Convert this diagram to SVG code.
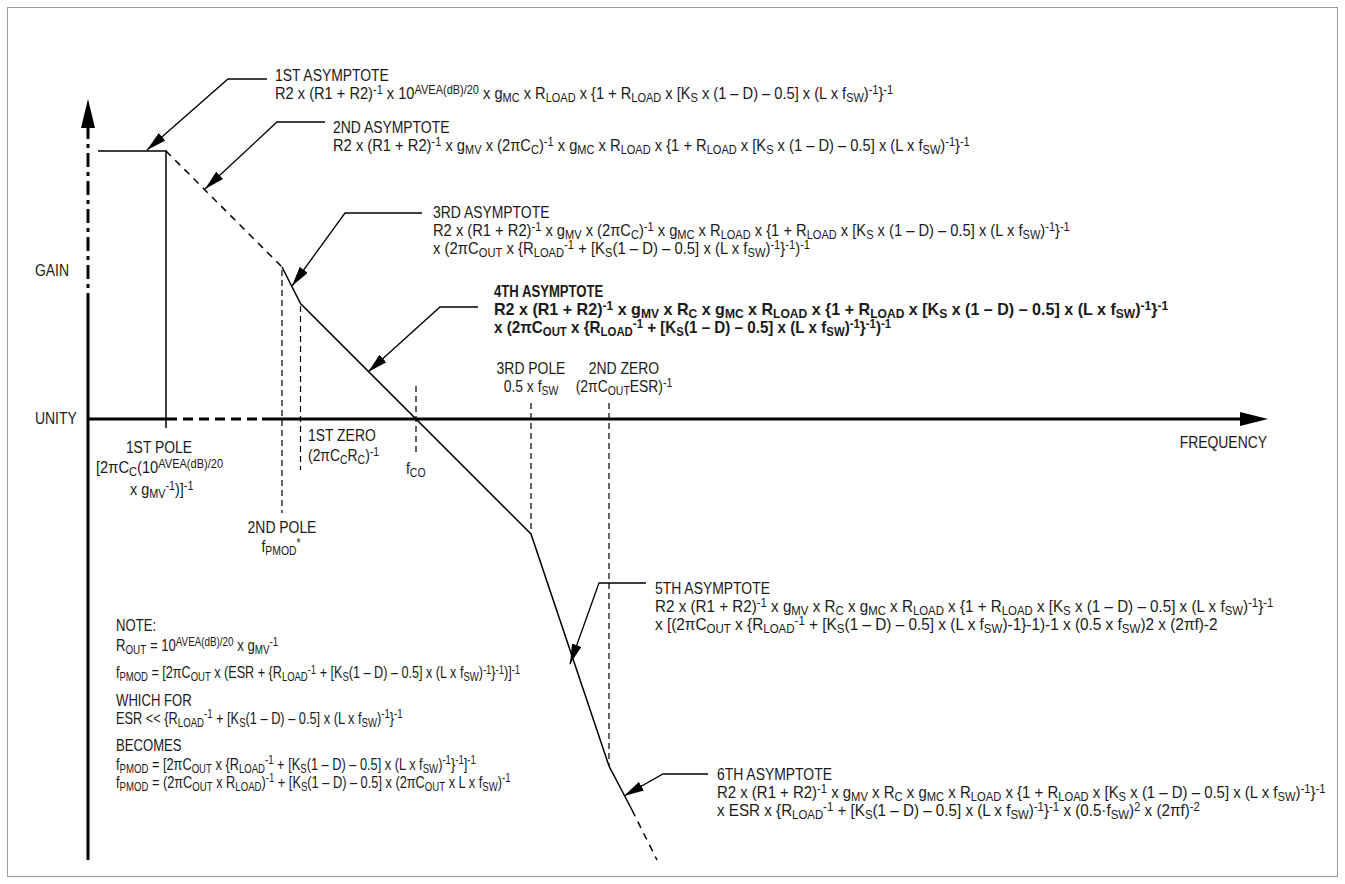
<svg xmlns="http://www.w3.org/2000/svg" width="1345" height="884" viewBox="0 0 1345 884">
<defs>
<marker id="ah" viewBox="0 0 20 10" refX="20" refY="5" markerWidth="20" markerHeight="10" markerUnits="userSpaceOnUse" orient="auto"><path d="M0,0 L20,5 L0,10 z" fill="#000"/></marker>
</defs>
<style>
text{font-family:"Liberation Sans",Arial,sans-serif;font-size:16px;fill:#1a1a1a}
.bd{font-weight:bold}
.b{baseline-shift:-3px;font-size:12px}
.p{baseline-shift:5px;font-size:12px}
.ax{stroke:#000;stroke-width:3;fill:none}
.cv{stroke:#000;stroke-width:1.5;fill:none}
.cd{stroke:#000;stroke-width:1.5;fill:none;stroke-dasharray:7 6}
.dv{stroke:#000;stroke-width:1.2;stroke-dasharray:6 4;fill:none}
.ptr{stroke:#000;stroke-width:1.3;fill:none;marker-end:url(#ah)}
</style>
<rect x="7.5" y="7.5" width="1330" height="869" fill="#fff" stroke="#999" stroke-width="1"/>

<g id="axes">
<line class="ax" x1="88" y1="300" x2="88" y2="860"/>
<line class="ax" x1="88" y1="125" x2="88" y2="300" stroke-dasharray="14 5 4 5"/>
<polygon points="88,99 81,128 95,128" fill="#000"/>
<line class="ax" x1="88" y1="419" x2="167" y2="419"/>
<line class="ax" x1="167" y1="419" x2="262" y2="419" stroke-dasharray="10 6"/>
<line class="ax" x1="262" y1="419" x2="1242" y2="419"/>
<polygon points="1268,419 1240,412 1240,426" fill="#000"/>
<text transform="translate(35,276) scale(.87,1)">GAIN</text>
<text transform="translate(35,424) scale(.87,1)">UNITY</text>
<text transform="translate(1267,448) scale(.87,1)" text-anchor="end">FREQUENCY</text>
</g>

<g id="curve">
<polyline class="cv" points="98,151 166,151 166,428"/>
<line class="cd" x1="166" y1="151" x2="282" y2="267"/>
<polyline class="cv" points="282,267 300.5,303.5 531,534 609,766 632,810"/>
<line class="cd" x1="632" y1="810" x2="657" y2="860"/>
</g>

<g id="markers">
<line class="dv" x1="282" y1="270" x2="282" y2="513"/>
<line class="dv" x1="300.5" y1="306" x2="300.5" y2="470"/>
<line class="dv" x1="416" y1="386" x2="416" y2="455"/>
<line class="dv" x1="531" y1="403" x2="531" y2="534"/>
<line class="dv" x1="609" y1="403" x2="609" y2="766"/>
</g>

<g id="connectors">
<polyline class="ptr" points="267,79 228,79 147,150"/>
<polyline class="ptr" points="325,122 277,122 205,189"/>
<polyline class="ptr" points="422,213 345,213 292,286"/>
<polyline class="ptr" points="478,307 440,307 368,372"/>
<polyline class="ptr" points="646,583 599,583 570,664"/>
<polyline class="ptr" points="708,774 663,774 624,796"/>
</g>

<g id="asym1">
<text transform="translate(275,81) scale(.87,1)">1ST ASYMPTOTE</text>
<text transform="translate(275,99) scale(.915,1)">R2 x (R1 + R2)<tspan class="p">-1</tspan> x 10<tspan class="p">AVEA(dB)/20</tspan> x g<tspan class="b">MC</tspan> x R<tspan class="b">LOAD</tspan> x {1 + R<tspan class="b">LOAD</tspan> x [K<tspan class="b">S</tspan> x (1 – D) – 0.5] x (L x f<tspan class="b">SW</tspan>)<tspan class="p">-1</tspan>}<tspan class="p">-1</tspan></text>
</g>

<g id="asym2">
<text transform="translate(333,133) scale(.87,1)">2ND ASYMPTOTE</text>
<text transform="translate(333,151) scale(.92,1)">R2 x (R1 + R2)<tspan class="p">-1</tspan> x g<tspan class="b">MV</tspan> x (2πC<tspan class="b">C</tspan>)<tspan class="p">-1</tspan> x g<tspan class="b">MC</tspan> x R<tspan class="b">LOAD</tspan> x {1 + R<tspan class="b">LOAD</tspan> x [K<tspan class="b">S</tspan> x (1 – D) – 0.5] x (L x f<tspan class="b">SW</tspan>)<tspan class="p">-1</tspan>}<tspan class="p">-1</tspan></text>
</g>

<g id="asym3">
<text transform="translate(433,218) scale(.87,1)">3RD ASYMPTOTE</text>
<text transform="translate(433,236) scale(.92,1)">R2 x (R1 + R2)<tspan class="p">-1</tspan> x g<tspan class="b">MV</tspan> x (2πC<tspan class="b">C</tspan>)<tspan class="p">-1</tspan> x g<tspan class="b">MC</tspan> x R<tspan class="b">LOAD</tspan> x {1 + R<tspan class="b">LOAD</tspan> x [K<tspan class="b">S</tspan> x (1 – D) – 0.5] x (L x f<tspan class="b">SW</tspan>)<tspan class="p">-1</tspan>}<tspan class="p">-1</tspan></text>
<text transform="translate(433,254) scale(.93,1)">x (2πC<tspan class="b">OUT</tspan> x {R<tspan class="b">LOAD</tspan><tspan class="p">-1</tspan> + [K<tspan class="b">S</tspan>(1 – D) – 0.5] x (L x f<tspan class="b">SW</tspan>)<tspan class="p">-1</tspan>}<tspan class="p">-1</tspan>)<tspan class="p">-1</tspan></text>
</g>

<g id="asym4">
<text class="bd" transform="translate(494,297) scale(.82,1)">4TH ASYMPTOTE</text>
<text class="bd" transform="translate(494,315) scale(1.005,1)">R2 x (R1 + R2)<tspan class="p">-1</tspan> x g<tspan class="b">MV</tspan> x R<tspan class="b">C</tspan> x g<tspan class="b">MC</tspan> x R<tspan class="b">LOAD</tspan> x {1 + R<tspan class="b">LOAD</tspan> x [K<tspan class="b">S</tspan> x (1 – D) – 0.5] x (L x f<tspan class="b">SW</tspan>)<tspan class="p">-1</tspan>}<tspan class="p">-1</tspan></text>
<text class="bd" transform="translate(494,333) scale(.95,1)">x (2πC<tspan class="b">OUT</tspan> x {R<tspan class="b">LOAD</tspan><tspan class="p">-1</tspan> + [K<tspan class="b">S</tspan>(1 – D) – 0.5] x (L x f<tspan class="b">SW</tspan>)<tspan class="p">-1</tspan>}<tspan class="p">-1</tspan>)<tspan class="p">-1</tspan></text>
</g>

<g id="pole3">
<text transform="translate(531,374) scale(.87,1)" text-anchor="middle">3RD POLE</text>
<text transform="translate(531,392) scale(.87,1)" text-anchor="middle">0.5 x f<tspan class="b">SW</tspan></text>
</g>
<g id="zero2">
<text transform="translate(624,374) scale(.87,1)" text-anchor="middle">2ND ZERO</text>
<text transform="translate(624,392) scale(.87,1)" text-anchor="middle">(2πC<tspan class="b">OUT</tspan>ESR)<tspan class="p">-1</tspan></text>
</g>

<g id="pole1">
<text transform="translate(159,453) scale(.87,1)" text-anchor="middle">1ST POLE</text>
<text transform="translate(96,473) scale(.92,1)">[2πC<tspan class="b">C</tspan>(10<tspan class="p">AVEA(dB)/20</tspan></text>
<text transform="translate(130,495) scale(.9,1)">x g<tspan class="b">MV</tspan><tspan class="p">-1</tspan>)]<tspan class="p">-1</tspan></text>
</g>
<g id="zero1">
<text transform="translate(308,441) scale(.87,1)">1ST ZERO</text>
<text transform="translate(308,461) scale(.87,1)">(2πC<tspan class="b">C</tspan>R<tspan class="b">C</tspan>)<tspan class="p">-1</tspan></text>
</g>
<g id="fco">
<text transform="translate(406,474) scale(.87,1)">f<tspan class="b">CO</tspan></text>
</g>
<g id="pole2">
<text transform="translate(282,533) scale(.87,1)" text-anchor="middle">2ND POLE</text>
<text transform="translate(281,552) scale(.87,1)" text-anchor="middle">f<tspan class="b">PMOD</tspan><tspan class="p">*</tspan></text>
</g>

<g id="asym5">
<text transform="translate(655,594) scale(.87,1)">5TH ASYMPTOTE</text>
<text transform="translate(655,612) scale(.95,1)">R2 x (R1 + R2)<tspan class="p">-1</tspan> x g<tspan class="b">MV</tspan> x R<tspan class="b">C</tspan> x g<tspan class="b">MC</tspan> x R<tspan class="b">LOAD</tspan> x {1 + R<tspan class="b">LOAD</tspan> x [K<tspan class="b">S</tspan> x (1 – D) – 0.5] x (L x f<tspan class="b">SW</tspan>)<tspan class="p">-1</tspan>}<tspan class="p">-1</tspan></text>
<text transform="translate(655,630) scale(.96,1)">x [(2πC<tspan class="b">OUT</tspan> x {R<tspan class="b">LOAD</tspan><tspan class="p">-1</tspan> + [K<tspan class="b">S</tspan>(1 – D) – 0.5] x (L x f<tspan class="b">SW</tspan>)-1}-1)-1 x (0.5 x f<tspan class="b">SW</tspan>)2 x (2πf)-2</text>
</g>

<g id="asym6">
<text transform="translate(717,780) scale(.87,1)">6TH ASYMPTOTE</text>
<text transform="translate(717,798) scale(.935,1)">R2 x (R1 + R2)<tspan class="p">-1</tspan> x g<tspan class="b">MV</tspan> x R<tspan class="b">C</tspan> x g<tspan class="b">MC</tspan> x R<tspan class="b">LOAD</tspan> x {1 + R<tspan class="b">LOAD</tspan> x [K<tspan class="b">S</tspan> x (1 – D) – 0.5] x (L x f<tspan class="b">SW</tspan>)<tspan class="p">-1</tspan>}<tspan class="p">-1</tspan></text>
<text transform="translate(717,816) scale(.95,1)">x ESR x {R<tspan class="b">LOAD</tspan><tspan class="p">-1</tspan> + [K<tspan class="b">S</tspan>(1 – D) – 0.5] x (L x f<tspan class="b">SW</tspan>)<tspan class="p">-1</tspan>}<tspan class="p">-1</tspan> x (0.5·f<tspan class="b">SW</tspan>)<tspan class="p">2</tspan> x (2πf)<tspan class="p">-2</tspan></text>
</g>

<g id="note">
<text transform="translate(116,631) scale(.82,1)">NOTE:</text>
<text transform="translate(116,651) scale(.82,1)">R<tspan class="b">OUT</tspan> = 10<tspan class="p">AVEA(dB)/20</tspan> x g<tspan class="b">MV</tspan><tspan class="p">-1</tspan></text>
<text transform="translate(116,678) scale(.79,1)">f<tspan class="b">PMOD</tspan> = [2πC<tspan class="b">OUT</tspan> x (ESR + {R<tspan class="b">LOAD</tspan><tspan class="p">-1</tspan> + [K<tspan class="b">S</tspan>(1 – D) – 0.5] x (L x f<tspan class="b">SW</tspan>)<tspan class="p">-1</tspan>}<tspan class="p">-1</tspan>)]<tspan class="p">-1</tspan></text>
<text transform="translate(116,706) scale(.82,1)">WHICH FOR</text>
<text transform="translate(116,724) scale(.8,1)">ESR &lt;&lt; {R<tspan class="b">LOAD</tspan><tspan class="p">-1</tspan> + [K<tspan class="b">S</tspan>(1 – D) – 0.5] x (L x f<tspan class="b">SW</tspan>)<tspan class="p">-1</tspan>}<tspan class="p">-1</tspan></text>
<text transform="translate(116,751) scale(.82,1)">BECOMES</text>
<text transform="translate(116,770) scale(.8,1)">f<tspan class="b">PMOD</tspan> = [2πC<tspan class="b">OUT</tspan> x {R<tspan class="b">LOAD</tspan><tspan class="p">-1</tspan> + [K<tspan class="b">S</tspan>(1 – D) – 0.5] x (L x f<tspan class="b">SW</tspan>)<tspan class="p">-1</tspan>}<tspan class="p">-1</tspan>]<tspan class="p">-1</tspan></text>
<text transform="translate(116,788) scale(.8,1)">f<tspan class="b">PMOD</tspan> = (2πC<tspan class="b">OUT</tspan> x R<tspan class="b">LOAD</tspan>)<tspan class="p">-1</tspan> + [K<tspan class="b">S</tspan>(1 – D) – 0.5] x (2πC<tspan class="b">OUT</tspan> x L x f<tspan class="b">SW</tspan>)<tspan class="p">-1</tspan></text>
</g>
</svg>
